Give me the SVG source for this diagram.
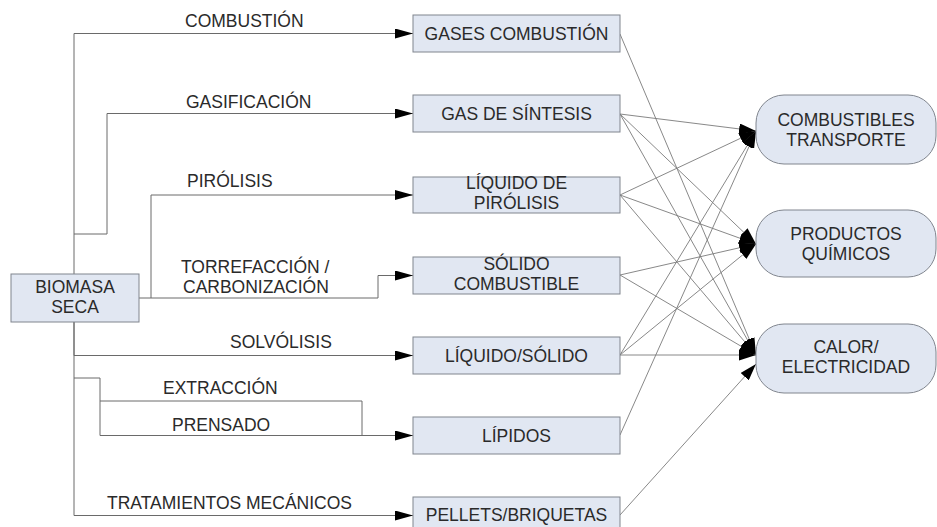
<svg xmlns="http://www.w3.org/2000/svg" width="937" height="527" viewBox="0 0 937 527">
<style>
.box{fill:#e1e7f2;stroke:#80858e;stroke-width:1}
.t{font-family:"Liberation Sans",Arial,sans-serif;font-size:17.5px;fill:#2a2a2a;text-anchor:middle}
.l{font-family:"Liberation Sans",Arial,sans-serif;font-size:17.5px;fill:#2a2a2a;text-anchor:start}
.c{fill:none;stroke:#6a6a6a;stroke-width:1}
.cr{fill:none;stroke:#7a7a7a;stroke-width:0.9}
</style>
<defs>
<marker id="a" markerUnits="userSpaceOnUse" markerWidth="18" markerHeight="10" refX="18" refY="5" orient="auto" viewBox="0 0 18 10"><path d="M0,0 L18,5 L0,10 z" fill="#000"/></marker>
<marker id="b" markerUnits="userSpaceOnUse" markerWidth="17" markerHeight="11" refX="17" refY="5.5" orient="auto" viewBox="0 0 17 11"><path d="M0,0 L17,5.5 L0,11 z" fill="#000"/></marker>
</defs>
<rect width="937" height="527" fill="#fff"/>
<g id="connectors">
<path class="c" d="M74,274 V33.5 H413" marker-end="url(#a)"/>
<path class="c" d="M74,234 H107 V113.5 H413" marker-end="url(#a)"/>
<path class="c" d="M151,298 V195 H413" marker-end="url(#a)"/>
<path class="c" d="M139,298 H378 V275.5 H413" marker-end="url(#a)"/>
<path class="c" d="M74,322 V355.5 H413" marker-end="url(#a)"/>
<path class="c" d="M100,401 H362 V435.5"/>
<path class="c" d="M74,378 H100 V435.5 H413" marker-end="url(#a)"/>
<path class="c" d="M74,322 V515.5 H413" marker-end="url(#a)"/>
<line class="cr" x1="620" y1="34" x2="756" y2="355" marker-end="url(#b)"/>
<line class="cr" x1="620" y1="114" x2="756" y2="131" marker-end="url(#b)"/>
<line class="cr" x1="620" y1="114" x2="756" y2="244" marker-end="url(#b)"/>
<line class="cr" x1="620" y1="114" x2="756" y2="355" marker-end="url(#b)"/>
<line class="cr" x1="620" y1="195" x2="756" y2="131" marker-end="url(#b)"/>
<line class="cr" x1="620" y1="195" x2="756" y2="244" marker-end="url(#b)"/>
<line class="cr" x1="620" y1="195" x2="756" y2="355" marker-end="url(#b)"/>
<line class="cr" x1="620" y1="275" x2="756" y2="244" marker-end="url(#b)"/>
<line class="cr" x1="620" y1="275" x2="756" y2="355" marker-end="url(#b)"/>
<line class="cr" x1="620" y1="355" x2="756" y2="131" marker-end="url(#b)"/>
<line class="cr" x1="620" y1="355" x2="756" y2="244" marker-end="url(#b)"/>
<line class="cr" x1="620" y1="355" x2="756" y2="355" marker-end="url(#b)"/>
<line class="cr" x1="620" y1="435" x2="756" y2="131" marker-end="url(#b)"/>
<line class="cr" x1="620" y1="515" x2="756" y2="364" marker-end="url(#b)"/>
</g>
<g id="biomasa"><rect class="box" x="11" y="274" width="128" height="48"/><text class="t" x="75" y="293">BIOMASA</text><text class="t" x="75" y="313">SECA</text></g>
<g id="lbl-combustion"><text class="l" x="185" y="27">COMBUSTIÓN</text></g>
<g id="lbl-gasificacion"><text class="l" x="186" y="108">GASIFICACIÓN</text></g>
<g id="lbl-pirolisis"><text class="l" x="187" y="187">PIRÓLISIS</text></g>
<g id="lbl-torrefaccion"><text class="l" x="181" y="273">TORREFACCIÓN /</text><text class="l" x="183" y="293">CARBONIZACIÓN</text></g>
<g id="lbl-solvolisis"><text class="l" x="230" y="348">SOLVÓLISIS</text></g>
<g id="lbl-extraccion"><text class="l" x="163" y="394">EXTRACCIÓN</text></g>
<g id="lbl-prensado"><text class="l" x="172" y="431">PRENSADO</text></g>
<g id="lbl-tratamientos"><text class="l" x="107" y="509">TRATAMIENTOS MECÁNICOS</text></g>
<g id="gases"><rect class="box" x="413" y="15" width="207" height="37"/><text class="t" x="516.5" y="39.5">GASES COMBUSTIÓN</text></g>
<g id="gas-sintesis"><rect class="box" x="413" y="95" width="207" height="37"/><text class="t" x="516.5" y="119.5">GAS DE SÍNTESIS</text></g>
<g id="liquido-pirolisis"><rect class="box" x="413" y="177" width="207" height="36"/><text class="t" x="516.5" y="189">LÍQUIDO DE</text><text class="t" x="516.5" y="209">PIRÓLISIS</text></g>
<g id="solido"><rect class="box" x="413" y="257" width="207" height="37"/><text class="t" x="516.5" y="270">SÓLIDO</text><text class="t" x="516.5" y="290">COMBUSTIBLE</text></g>
<g id="liquido-solido"><rect class="box" x="413" y="337" width="207" height="37"/><text class="t" x="516.5" y="361.5">LÍQUIDO/SÓLIDO</text></g>
<g id="lipidos"><rect class="box" x="413" y="417" width="207" height="37"/><text class="t" x="516.5" y="441.5">LÍPIDOS</text></g>
<g id="pellets"><rect class="box" x="413" y="497" width="207" height="37"/><text class="t" x="516.5" y="521">PELLETS/BRIQUETAS</text></g>
<g id="combustibles"><rect class="box" x="756" y="95" width="180" height="69" rx="28" ry="28"/><text class="t" x="846" y="126">COMBUSTIBLES</text><text class="t" x="846" y="146">TRANSPORTE</text></g>
<g id="productos"><rect class="box" x="756" y="210" width="180" height="67" rx="28" ry="28"/><text class="t" x="846" y="240">PRODUCTOS</text><text class="t" x="846" y="260">QUÍMICOS</text></g>
<g id="calor"><rect class="box" x="756" y="324" width="180" height="69" rx="28" ry="28"/><text class="t" x="846" y="353">CALOR/</text><text class="t" x="846" y="373">ELECTRICIDAD</text></g>
</svg>
